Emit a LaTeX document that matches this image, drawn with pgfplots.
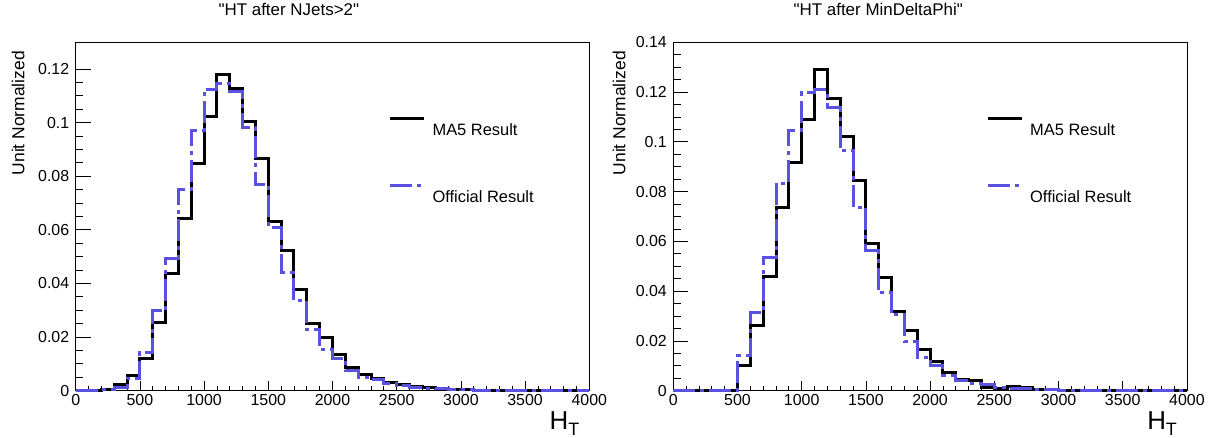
\documentclass[border=0pt]{standalone}
\usepackage{fontspec}
\setmainfont{Liberation Sans}
\usepackage{pgfplots}
\usepackage{pgfplotstable}
\pgfplotsset{compat=1.18}

\definecolor{offblue}{RGB}{89,82,223}

% HT after NJets>2 : bin low edge, MA5, official
\pgfplotstableread{
x ma5 off
0 0 0
100 0 0
200 0.0005 0.0003
300 0.0024 0.0013
400 0.0055 0.0047
500 0.0121 0.0143
600 0.0253 0.0298
700 0.0437 0.0493
800 0.0641 0.0749
900 0.0846 0.0972
1000 0.1023 0.1125
1100 0.1178 0.1147
1200 0.1127 0.1118
1300 0.1003 0.0982
1400 0.0868 0.0769
1500 0.0631 0.0608
1600 0.0524 0.0441
1700 0.0379 0.0338
1800 0.0249 0.0227
1900 0.0199 0.0155
2000 0.0134 0.0121
2100 0.0086 0.0074
2200 0.0059 0.0050
2300 0.0047 0.0040
2400 0.0029 0.0028
2500 0.0024 0.0019
2600 0.0015 0.0012
2700 0.0011 0.0008
2800 0.0010 0.0007
2900 0.0006 0.0004
3000 0.0003 0.0003
3100 0.0002 0.0002
3200 0.0002 0.0002
3300 0.0001 0.0002
3400 0.0001 0.0001
3500 0.0001 0.0001
3600 0.0001 0.0001
3700 0.0001 0.0001
3800 0.0001 0.0001
3900 0.0001 0.0001
4000 0.0001 0.0001
}\njets

% HT after MinDeltaPhi
\pgfplotstableread{
x ma5 off
0 0 0
100 0 0
200 0 0
300 0 0
400 0 0
500 0.0101 0.0140
600 0.0264 0.0314
700 0.0457 0.0536
800 0.0737 0.0833
900 0.0916 0.1047
1000 0.1091 0.1197
1100 0.1291 0.1209
1200 0.1173 0.1140
1300 0.1020 0.0964
1400 0.0844 0.0737
1500 0.0593 0.0564
1600 0.0453 0.0393
1700 0.0320 0.0305
1800 0.0240 0.0197
1900 0.0166 0.0134
2000 0.0117 0.0101
2100 0.0072 0.0063
2200 0.0046 0.0040
2300 0.0040 0.0030
2400 0.0013 0.0024
2500 0.0010 0.0014
2600 0.0015 0.0008
2700 0.0011 0.0008
2800 0.0004 0.0003
2900 0.0003 0.0003
3000 0.0002 0.0002
3100 0.0001 0.0002
3200 0.0001 0.0001
3300 0.0001 0.0001
3400 0.0001 0.0001
3500 0.0001 0.0001
3600 0.0001 0.0001
3700 0.0001 0.0001
3800 0.0001 0.0001
3900 0.0001 0.0001
4000 0.0001 0.0001
}\mindphi

\pgfplotsset{
  roothist/.style={
    scale only axis, width=513.6bp, height=348.4bp,
    xmin=0, xmax=4000, ymin=0,
    clip=false,
    axis line style={line width=0.8bp},
    tick align=inside, tick pos=left,
    major tick length=10bp, minor tick length=5bp,
    tick style={line width=0.8bp, black},
    ytick style={/pgfplots/major tick length=15bp, /pgfplots/minor tick length=7.5bp},
    xtick={0,500,...,4000},
    xticklabels={0,500,1000,1500,2000,2500,3000,3500,4000},
    minor x tick num=4, minor y tick num=3,
    scaled ticks=false,
    ticklabel style={font=\fontsize{16}{16}\selectfont},
    y tick label style={xshift=-3bp},
    xlabel={\fontsize{26}{26}\selectfont H\raisebox{-0.45ex}{\fontsize{18}{18}\selectfont T}},
    xlabel style={at={(rel axis cs:0.981,-0.06)}, anchor=north east, inner sep=0pt},
    ylabel={Unit Normalized},
    ylabel style={font=\fontsize{17.5}{17.5}\selectfont, anchor=east, inner sep=0pt},
    title style={font=\fontsize{17}{17}\selectfont, anchor=center},
    legend style={draw=none, fill=none, anchor=north west,
      font=\fontsize{16.5}{16.5}\selectfont, row sep=45bp,
      /tikz/column sep=5bp, nodes={inner sep=2bp}},
    legend cell align=left,
    legend image code/.code={\draw[#1] (0bp,12bp) -- (34bp,12bp);},
  },
  ma5/.style={black, line width=3bp, const plot mark left, no marks},
  off/.style={offblue, line width=3bp, const plot mark left, no marks,
    dash pattern=on 22bp off 5bp on 4bp off 5bp},
}

\begin{document}
\begin{tikzpicture}
\useasboundingbox (0,0) rectangle (1211bp,438bp);

\begin{axis}[roothist,
  at={(75.7bp,47.3bp)}, anchor=south west,
  ymax=0.13,
  ytick={0,0.02,0.04,0.06,0.08,0.1,0.12},
  yticklabels={0,0.02,0.04,0.06,0.08,0.1,0.12},
  title={\textquotedbl HT after NJets>2\textquotedbl},
  title style={at={(rel axis cs:0.415,1.078)}},
  ylabel style={at={(rel axis cs:-0.1123,0.975)}},
  legend style={at={(rel axis cs:0.603,0.793)}},
]
\addplot[ma5] table[x=x, y=ma5] {\njets};
\addlegendentry{MA5 Result}
\addplot[off] table[x=x, y=off] {\njets};
\addlegendentry{Official Result}
\end{axis}

\begin{axis}[roothist,
  at={(673.3bp,47.3bp)}, anchor=south west,
  ymax=0.14,
  ytick={0,0.02,0.04,0.06,0.08,0.1,0.12,0.14},
  yticklabels={0,0.02,0.04,0.06,0.08,0.1,0.12,0.14},
  title={\textquotedbl HT after MinDeltaPhi\textquotedbl},
  title style={at={(rel axis cs:0.399,1.078)}},
  ylabel style={at={(rel axis cs:-0.1057,0.975)}},
  legend style={at={(rel axis cs:0.603,0.793)}},
]
\addplot[ma5] table[x=x, y=ma5] {\mindphi};
\addlegendentry{MA5 Result}
\addplot[off] table[x=x, y=off] {\mindphi};
\addlegendentry{Official Result}
\end{axis}
\end{tikzpicture}
\end{document}
